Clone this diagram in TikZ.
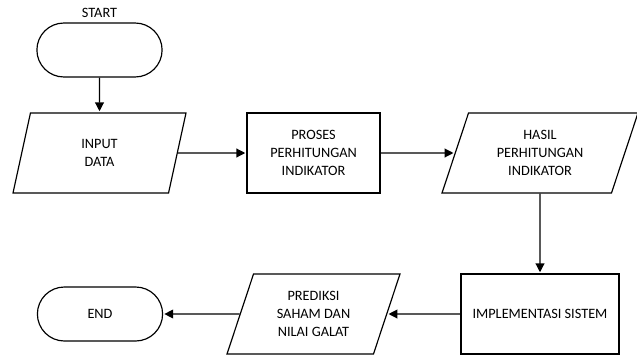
\documentclass[tikz,border=0pt]{standalone}
\usepackage{fontspec}
\setmainfont{Carlito}
\usetikzlibrary{arrows.meta, positioning, shapes.geometric, shapes.misc}

\begin{document}
\begin{tikzpicture}[shorten >=1pt, on grid, line width=1pt,
    every node/.style={font=\fontsize{12.2}{15.3}\selectfont, align=center},
    terminal/.style={draw, rounded rectangle, minimum width=3.99cm, minimum height=1.62cm},
    process/.style={draw, rectangle, minimum width=3.99cm, minimum height=2.4cm},
    io/.style={draw, trapezium, trapezium left angle=63.43, trapezium right angle=116.57,
        trapezium stretches body, minimum width=5.19cm, minimum height=2.4cm},
    flow/.style={-{Triangle[length=7.5pt, width=7.5pt]}}]
    \useasboundingbox (0,0) rectangle (19.11,-10.62);
    \node[terminal, label={[label distance=0pt]above:START}] (start) at (2.985,-1.5) {};
    \node[io] (input) [below=3.09cm of start] {INPUT\\DATA};
    \node[process] (proses) [right=6.42cm of input] {PROSES\\PERHITUNGAN\\INDIKATOR};
    \node[io, minimum width=5.88cm] (hasil) [right=6.795cm of proses] {HASIL\\PERHITUNGAN\\INDIKATOR};
    \node[process, minimum width=4.74cm] (impl) [below=4.83cm of hasil] {IMPLEMENTASI SISTEM};
    \node[io] (prediksi) [left=6.795cm of impl] {PREDIKSI\\SAHAM DAN\\NILAI GALAT};
    \node[terminal] (end) [left=6.405cm of prediksi] {END};
	\path[flow]
	(start) edge (input)
	(input) edge (proses)
	(proses) edge (hasil)
	(hasil) edge (impl)
	(impl) edge (prediksi)
	(prediksi) edge (end);
\end{tikzpicture}
\end{document}
